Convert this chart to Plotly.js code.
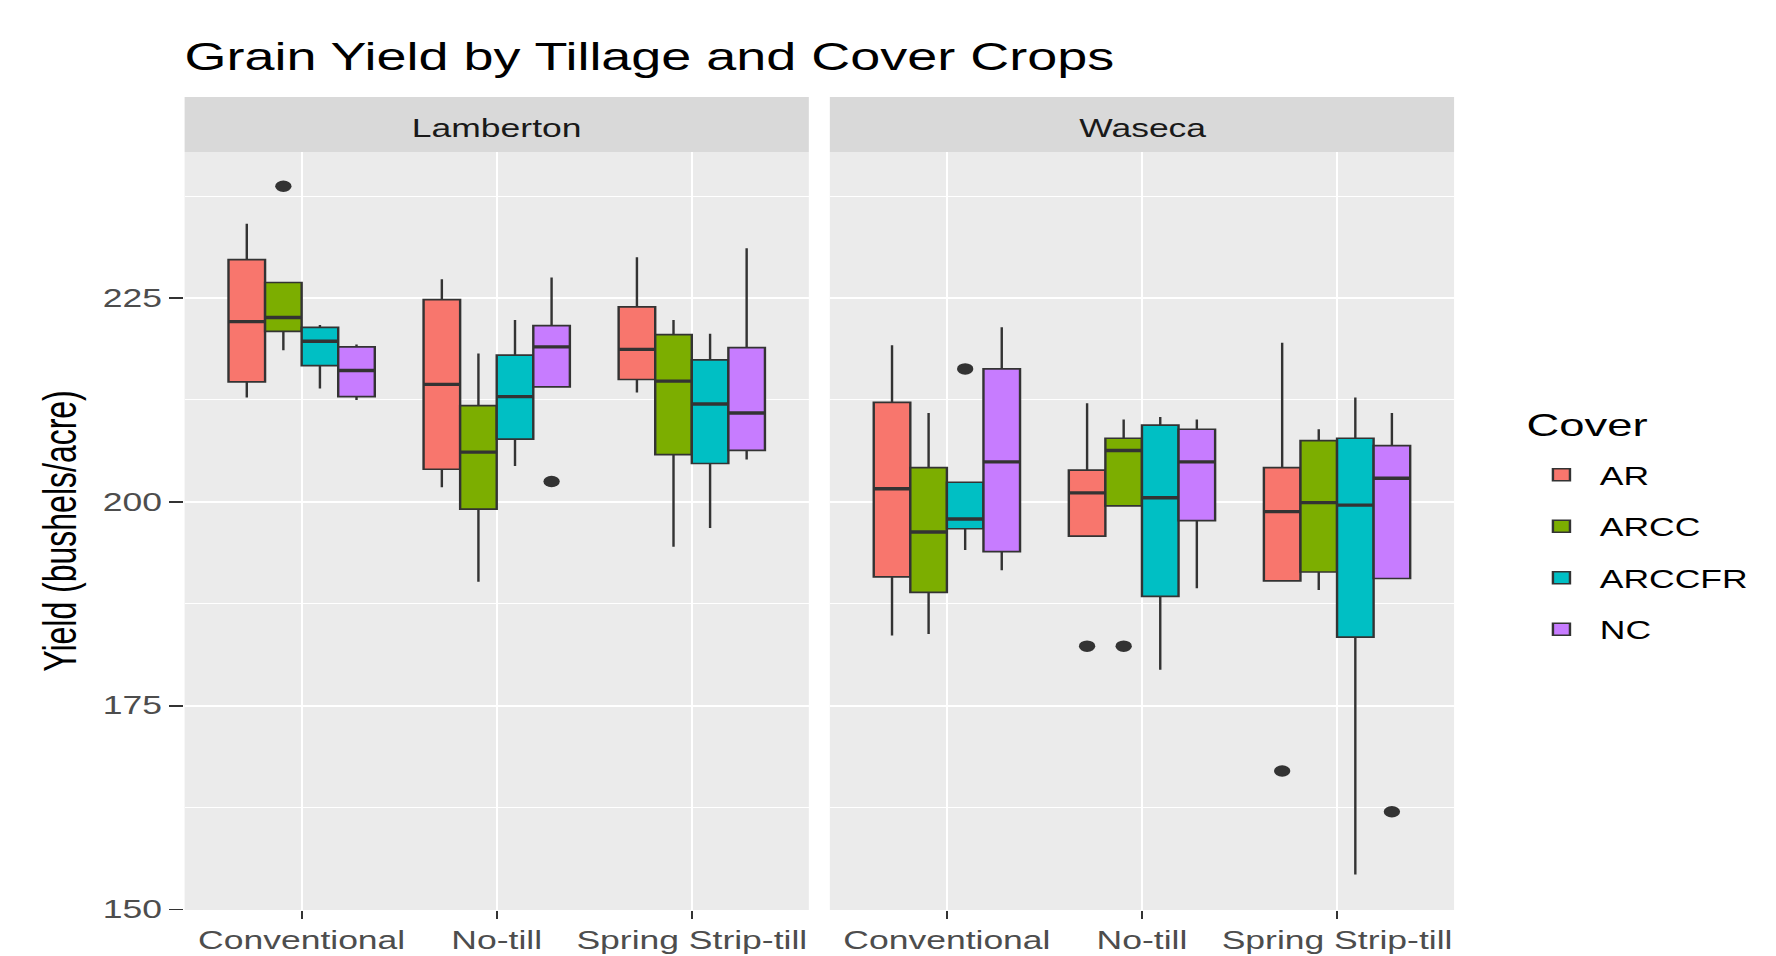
<!DOCTYPE html>
<html>
<head>
<meta charset="utf-8">
<script src="https://cdn.plot.ly/plotly-3.0.1.min.js"></script>
<style>
  html, body { margin: 0; padding: 0; background: #ffffff; }
  #wrap { width: 1776px; height: 956px; overflow: hidden; position: relative; }
  #plot { position: absolute; left: 0; top: 0; transform-origin: 0 0; }
</style>
</head>
<body>
<div id="wrap"><div id="plot"></div></div>
<script>
// ---------------- data ----------------
const tillage = ['Conventional', 'No-till', 'Spring Strip-till'];
const covers = ['AR', 'ARCC', 'ARCCFR', 'NC'];
const sites = ['Lamberton', 'Waseca'];

// rows: AR, ARCC, ARCCFR, NC ; columns: Conventional, No-till, Spring Strip-till
const lambertonLower  = [[212.8, 201.8, 213.4], [218.6, 190.2, 194.5], [213.9, 204.4, 196.8], [212.5, 214.1, 205.2]];
const lambertonQ1     = [[214.7, 204.0, 215.0], [220.9, 199.1, 205.8], [216.7, 207.7, 204.7], [212.9, 214.1, 206.3]];
const lambertonMedian = [[222.1, 214.4, 218.7], [222.6, 206.1, 214.8], [219.7, 212.9, 212.0], [216.1, 219.0, 210.9]];
const lambertonQ3     = [[229.7, 224.8, 223.9], [226.9, 211.8, 220.5], [221.4, 218.0, 217.4], [219.0, 221.6, 218.9]];
const lambertonUpper  = [[234.1, 227.3, 230.0], [226.9, 218.2, 222.3], [221.7, 222.3, 220.6], [219.3, 227.5, 231.1]];

const wasecaLower  = [[183.6, 195.8, 190.3], [183.8, 199.5, 189.2], [194.1, 179.4, 154.3], [191.6, 189.4, 190.6]];
const wasecaQ1     = [[190.8, 195.8, 190.3], [188.9, 199.5, 191.4], [196.7, 188.4, 183.4], [193.9, 197.7, 190.6]];
const wasecaMedian = [[201.6, 201.1, 198.8], [196.3, 206.3, 199.9], [197.9, 200.5, 199.6], [204.9, 204.9, 202.9]];
const wasecaQ3     = [[212.2, 203.9, 204.2], [204.2, 207.8, 207.5], [202.4, 209.4, 207.8], [216.3, 208.9, 206.9]];
const wasecaUpper  = [[219.2, 212.1, 219.5], [210.9, 210.1, 208.9], [202.4, 210.4, 212.8], [221.4, 210.1, 210.9]];

const lambertonOutCover   = ['ARCC', 'NC'];
const lambertonOutTillage = ['Conventional', 'No-till'];
const lambertonOutYield   = [238.7, 202.5];

const wasecaOutCover   = ['ARCCFR', 'AR', 'ARCC', 'AR', 'NC'];
const wasecaOutTillage = ['Conventional', 'No-till', 'No-till', 'Spring Strip-till', 'Spring Strip-till'];
const wasecaOutYield   = [216.3, 182.3, 182.3, 167.0, 162.0];

const yTicks = [150, 175, 200, 225];

// ---------------- styling ----------------
const coverColors = ['#F8766D', '#7CAE00', '#00BFC4', '#C77CFF'];
const SX = 1.42;                       // horizontal stretch of the reference image
const W = Math.round(1776 / SX), H = 956;
const FONT = 'Liberation Sans, Arial, sans-serif';
const BOXW = 0.1875;

const siteStats = [
  [lambertonLower, lambertonQ1, lambertonMedian, lambertonQ3, lambertonUpper],
  [wasecaLower, wasecaQ1, wasecaMedian, wasecaQ3, wasecaUpper]
];
const siteOut = [
  [lambertonOutCover, lambertonOutTillage, lambertonOutYield],
  [wasecaOutCover, wasecaOutTillage, wasecaOutYield]
];

function xpos(ti, ci) { return ti + 1 + (ci - 1.5) * BOXW; }

const traces = [];
sites.forEach((site, si) => {
  const sfx = si === 0 ? '' : '2';
  const [lo, q1, med, q3, up] = siteStats[si];
  covers.forEach((cov, ci) => {
    const xs = tillage.map((t, ti) => xpos(ti, ci));
    traces.push({
      type: 'box', name: cov, legendgroup: cov, showlegend: si === 0,
      x: xs, q1: q1[ci], median: med[ci], q3: q3[ci],
      lowerfence: lo[ci], upperfence: up[ci],
      width: BOXW, whiskerwidth: 0, boxpoints: false,
      fillcolor: coverColors[ci],
      line: { color: '#333333', width: 1.7 },
      xaxis: 'x' + sfx, yaxis: 'y' + sfx, hoverinfo: 'skip'
    });
    // thick median bar
    traces.push({
      type: 'box', name: cov, legendgroup: cov, showlegend: false,
      x: xs, q1: med[ci], median: med[ci], q3: med[ci],
      lowerfence: med[ci], upperfence: med[ci],
      width: BOXW, whiskerwidth: 0, boxpoints: false,
      fillcolor: 'rgba(0,0,0,0)',
      line: { color: '#333333', width: 3.4 },
      xaxis: 'x' + sfx, yaxis: 'y' + sfx, hoverinfo: 'skip'
    });
  });
  const [oc, ot, oy] = siteOut[si];
  traces.push({
    type: 'scatter', mode: 'markers', showlegend: false,
    x: oc.map((c, i) => xpos(tillage.indexOf(ot[i]), covers.indexOf(c))),
    y: oy,
    marker: { color: '#333333', size: 11.5 },
    xaxis: 'x' + sfx, yaxis: 'y' + sfx, hoverinfo: 'skip'
  });
});

// ---------------- layout ----------------
const mL = 185 / SX, mR = W - 1454 / SX, mT = 152, mB = H - 910;
const plotW = W - mL - mR, plotH = H - mT - mB;
const gap = (830 - 809) / SX / plotW;
const d1 = [0, 0.5 - gap / 2], d2 = [0.5 + gap / 2, 1];

function xAxis(domain, anchor) {
  return {
    domain: domain, anchor: anchor, range: [0.4, 3.6],
    tickmode: 'array', tickvals: tillage.map((t, i) => i + 1), ticktext: tillage,
    showgrid: true, gridcolor: '#ffffff', gridwidth: 1.4, zeroline: false,
    ticks: 'outside', ticklen: 8, tickwidth: 1.5, tickcolor: '#333333',
    tickfont: { family: FONT, size: 25, color: '#4D4D4D' },
    showline: false, fixedrange: true
  };
}
function yAxis(anchor, labels) {
  return {
    anchor: anchor, domain: [0, 1], range: [149.95, 242.9],
    tickmode: 'array', tickvals: yTicks,
    showticklabels: labels,
    minor: { dtick: 12.5, tick0: 150, showgrid: true, gridcolor: '#ffffff', gridwidth: 1, ticks: '' },
    showgrid: true, gridcolor: '#ffffff', gridwidth: 2, zeroline: false,
    ticks: labels ? 'outside' : '', ticklen: 10, tickwidth: 1.8, tickcolor: '#333333',
    tickfont: { family: FONT, size: 25, color: '#4D4D4D' },
    showline: false, fixedrange: true
  };
}

const stripTop = 1 + (152 - 97) / plotH;
const legendX = (1523 / SX - mL) / plotW;
const layout = {
  width: W, height: H,
  margin: { l: mL, r: mR, t: mT, b: mB, pad: 0 },
  paper_bgcolor: '#ffffff', plot_bgcolor: '#EBEBEB',
  font: { family: FONT },
  title: {
    text: 'Grain Yield by Tillage and Cover Crops',
    font: { family: FONT, size: 38, color: '#000000' },
    xref: 'paper', x: 0, xanchor: 'left',
    yref: 'container', y: 1 - 57 / H, yanchor: 'middle'
  },
  xaxis: xAxis(d1, 'y'),
  xaxis2: xAxis(d2, 'y2'),
  yaxis: Object.assign(yAxis('x', true), {
    title: { text: 'Yield (bushels/acre)', font: { family: FONT, size: 32, color: '#000000' }, standoff: 8 }
  }),
  yaxis2: Object.assign(yAxis('x2', false), { matches: 'y' }),
  boxmode: 'overlay',
  showlegend: true,
  legend: {
    x: legendX, xanchor: 'left',
    y: (910 - 452) / plotH, yanchor: 'top',
    bgcolor: 'rgba(0,0,0,0)',
    font: { family: FONT, size: 25, color: '#000000' },
    tracegroupgap: 16, itemwidth: 44, traceorder: 'grouped'
  },
  shapes: [
    { type: 'rect', xref: 'x domain', yref: 'paper', x0: 0, x1: 1, y0: 1, y1: stripTop, fillcolor: '#D9D9D9', line: { width: 0 }, layer: 'below' },
    { type: 'rect', xref: 'x2 domain', yref: 'paper', x0: 0, x1: 1, y0: 1, y1: stripTop, fillcolor: '#D9D9D9', line: { width: 0 }, layer: 'below' }
  ],
  annotations: sites.map((s, i) => ({
    text: s, showarrow: false,
    xref: (i === 0 ? 'x' : 'x2') + ' domain', x: 0.5, xanchor: 'center',
    yref: 'paper', y: (1 + stripTop) / 2 - 3.5 / plotH, yanchor: 'middle',
    font: { family: FONT, size: 25, color: '#1A1A1A' }
  })).concat([{
    text: 'Cover', showarrow: false,
    xref: 'paper', x: legendX, xanchor: 'left',
    yref: 'paper', y: (910 - 425) / plotH, yanchor: 'middle',
    font: { family: FONT, size: 32, color: '#000000' }
  }])
};

const el = document.getElementById('plot');
el.style.width = W + 'px';
el.style.height = H + 'px';
el.style.transform = 'scaleX(' + SX + ')';
Plotly.newPlot(el, traces, layout, { staticPlot: true, displayModeBar: false });
</script>
</body>
</html>
